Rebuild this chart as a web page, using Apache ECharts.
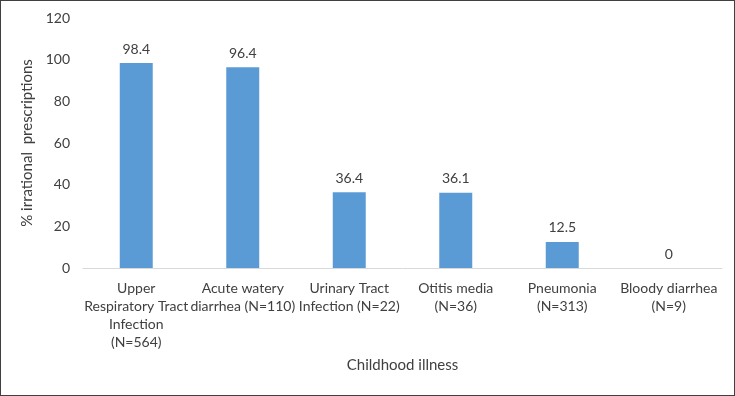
<!DOCTYPE html>
<html>
<head>
<meta charset="utf-8">
<script src="https://cdn.jsdelivr.net/npm/echarts@6/dist/echarts.min.js"></script>
<style>
  html, body { margin: 0; padding: 0; background: #fff; }
  #chart { width: 733px; height: 394px; border: 1px solid #404040; }
</style>
</head>
<body>
<div id="chart"></div>
<script>
const categories = [
  "Upper\nRespiratory Tract\nInfection\n(N=564)",
  "Acute watery\ndiarrhea (N=110)",
  "Urinary Tract\nInfection (N=22)",
  "Otitis media\n(N=36)",
  "Pneumonia\n(N=313)",
  "Bloody diarrhea\n(N=9)",
];
const irrational = [98.4, 96.4, 36.4, 36.1, 12.5, 0];
const yTicks = { min: 0, max: 120, interval: 20 };

const textColor = "#404040";
const font = "Lato, 'Open Sans', sans-serif";

const chart = echarts.init(document.getElementById("chart"), null, { renderer: "canvas" });

chart.setOption({
  animation: false,
  grid: { left: 82, right: 12, top: 17, bottom: 127 },
  xAxis: {
    type: "category",
    data: categories,
    name: "Childhood illness",
    nameLocation: "middle",
    nameGap: 90,
    nameTextStyle: { color: textColor, fontSize: 15, fontFamily: font },
    axisLine: { lineStyle: { color: "#d9d9d9", width: 1 } },
    axisTick: { show: false },
    axisLabel: {
      color: textColor, fontSize: 14, fontFamily: font, lineHeight: 18,
      interval: 0, margin: 11,
    },
  },
  yAxis: {
    type: "value",
    min: yTicks.min,
    max: yTicks.max,
    interval: yTicks.interval,
    name: "% irrational  prescriptions",
    nameLocation: "middle",
    nameRotate: 90,
    nameGap: 37,
    nameTextStyle: { color: textColor, fontSize: 15, fontFamily: font },
    axisLine: { show: false },
    axisTick: { show: false },
    splitLine: { show: false },
    axisLabel: { color: textColor, fontSize: 14, fontFamily: font, margin: 13 },
  },
  series: [{
    type: "bar",
    data: irrational,
    barWidth: 33,
    itemStyle: { color: "#5b9bd5" },
    label: {
      show: true,
      position: "top",
      distance: 7,
      color: textColor,
      fontSize: 14,
      fontFamily: font,
      formatter: (p) => String(p.value),
    },
  }],
});
</script>
</body>
</html>
